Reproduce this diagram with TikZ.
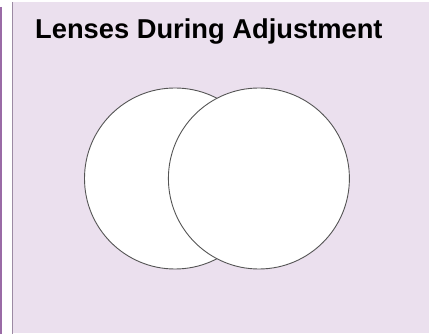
\documentclass[tikz,border=0pt]{standalone}
\usepackage{fontspec}
\setmainfont{Liberation Sans}
\usetikzlibrary{positioning}
\definecolor{panelfill}{HTML}{EBE0EE}
\definecolor{panelrule}{HTML}{9C8AA3}
\definecolor{sidebar}{HTML}{9A6BA6}
\definecolor{lensline}{HTML}{555555}
\tikzset{
  lens/.style={circle, draw=lensline, line width=0.9pt, fill=white,
    minimum size=181pt, inner sep=0pt},
  heading/.style={anchor=base west, inner sep=0pt,
    font=\fontsize{27.3}{31}\selectfont\bfseries}
}

\begin{document}
\begin{tikzpicture}[x=1pt, y=-1pt]
    \useasboundingbox (0,0) rectangle (429,334);
    % side bar and panel
    \draw[sidebar, line width=1.6pt] (1,7) -- (1,334);
    \fill[panelfill] (12,2) rectangle (429,333);
    \draw[panelrule, line width=1.6pt] (12.5,2) -- (12.5,334);
    \node[heading] (title) at (35,39) {Lenses During Adjustment};
    % the two lenses
    \node[lens] (lensA) at (175,178.5) {};
    \node[lens, right=-98pt of lensA] (lensB) {};
  \end{tikzpicture}
\end{document}
